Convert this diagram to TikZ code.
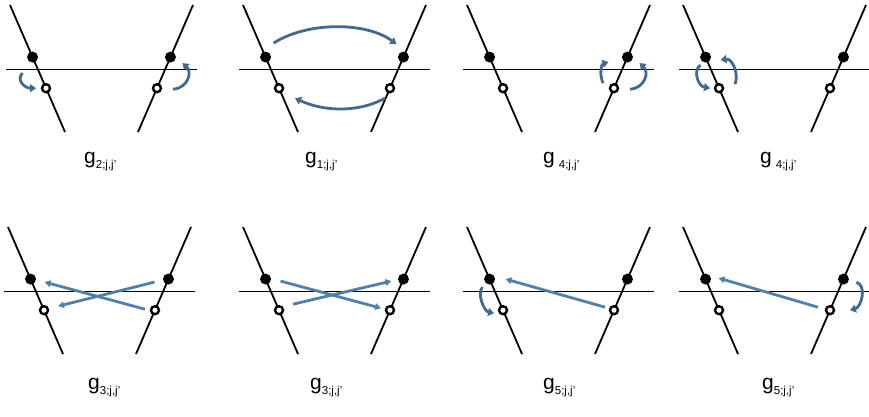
\documentclass[tikz,border=0pt]{standalone}
\usepackage{fontspec}
\setmainfont{Liberation Sans}
\usetikzlibrary{arrows.meta,calc}
\definecolor{hopblue}{HTML}{5080AD}
\definecolor{twistblue}{HTML}{45698E}
\newcommand\gsub[2][0pt]{g\hspace{#1}\raisebox{-5pt}{\fontsize{11.5}{12}\selectfont #2}}
\tikzset{
  strand/.style={line width=1.8pt,draw=black},
  level/.style ={line width=1pt,draw=black},
  full/.style  ={circle,fill=black,inner sep=0pt,minimum size=11pt},
  hollow/.style={circle,draw=black,fill=white,line width=2.4pt,inner sep=0pt,minimum size=8pt},
  hop/.style   ={-{Triangle[length=6pt,width=6.5pt]},line width=2.8pt,draw=hopblue},
  twist/.style ={-{Triangle[length=6pt,width=8pt]},line width=2.8pt,draw=twistblue},
  glabel/.style={anchor=base west,inner sep=0pt,font=\fontsize{21}{22}\selectfont}
}
\begin{document}
\begin{tikzpicture}[x=1pt,y=-1pt]
  \useasboundingbox (0,0) rectangle (869,416);
  % the eight panels: two strands, level line, two sites each
  \foreach \i/\x/\y in {1/10/5,2/243/5,3/467/5,4/683/5,5/8/227,6/243/227,7/467/227,8/683/227}{
    \coordinate (lt\i) at (\x,\y);
    \coordinate (lb\i) at (\x+55,\y+127);
    \coordinate (rt\i) at (\x+183,\y);
    \coordinate (rb\i) at (\x+128,\y+127);
    \draw[level] (\x-4,\y+64) -- (\x+187,\y+64);
    \draw[strand] (lt\i) -- (lb\i);
    \draw[strand] (rt\i) -- (rb\i);
    \node[full]   (fl\i) at ($(lt\i)!0.41!(lb\i)$) {};
    \node[hollow] (ol\i) at ($(lt\i)!0.655!(lb\i)$) {};
    \node[full]   (fr\i) at ($(rt\i)!0.41!(rb\i)$) {};
    \node[hollow] (or\i) at ($(rt\i)!0.655!(rb\i)$) {};
  }
  % labels
  \node[glabel] (lab1) at (84,163)  {\gsub{2;j,j'}};
  \node[glabel] (lab2) at (305,163) {\gsub{1;j,j'}};
  \node[glabel] (lab3) at (543,163) {\gsub[4pt]{4;j,j'}};
  \node[glabel] (lab4) at (760,163) {\gsub[4pt]{4;j,j'}};
  \node[glabel] (lab5) at (88,389)  {\gsub{3;j,j'}};
  \node[glabel] (lab6) at (310,389) {\gsub{3;j,j'}};
  \node[glabel] (lab7) at (543,389) {\gsub{5;j,j'}};
  \node[glabel] (lab8) at (762,389) {\gsub{5;j,j'}};
  % g2
  \draw[twist] ([shift={(-10,16)}]fl1.center) .. controls +(-7,7) and +(-11,0) .. ([shift={(-10,0)}]ol1.center);
  \draw[twist] ([shift={(16,1)}]or1.center) .. controls +(15,-1) and +(10,9) .. ([shift={(12,6)}]fr1.center);
  % g1
  \draw[twist] ([shift={(8,-14)}]fl2.center) .. controls +(35,-22) and +(-30,-22) .. ([shift={(-7,-13)}]fr2.center);
  \draw[twist] ([shift={(-5,10)}]or2.center) .. controls +(-25,14) and +(30,14) .. ([shift={(16,10)}]ol2.center);
  % g4, right pair
  \draw[twist] ([shift={(-11,-5)}]or3.center) .. controls +(-4,-10) and +(-7,2) .. ([shift={(-19,5)}]fr3.center);
  \draw[twist] ([shift={(16,1)}]or3.center) .. controls +(15,-1) and +(10,9) .. ([shift={(12,6)}]fr3.center);
  % g4, left pair
  \draw[twist] ([shift={(-5,8)}]fl4.center) .. controls +(-8,5) and +(-12,-2) .. ([shift={(-9,0)}]ol4.center);
  \draw[twist] ([shift={(16,-4)}]ol4.center) .. controls +(4,-10) and +(12,-2) .. ([shift={(15,3)}]fl4.center);
  % g3, right to left
  \draw[hop] ([shift={(-14,3)}]fr5.center) -- ([shift={(14,-4)}]ol5.center);
  \draw[hop] ([shift={(-10,-1)}]or5.center) -- ([shift={(14,3)}]fl5.center);
  % g3, left to right
  \draw[hop] ([shift={(15,2)}]fl6.center) -- ([shift={(-9,-2)}]or6.center);
  \draw[hop] ([shift={(14,-6)}]ol6.center) -- ([shift={(-12,2)}]fr6.center);
  % g5
  \draw[hop] ([shift={(-9,-3)}]or7.center) -- ([shift={(16,0)}]fl7.center);
  \draw[twist] ([shift={(-7,8)}]fl7.center) .. controls +(-6,6) and +(-10,-2) .. ([shift={(-9,3)}]ol7.center);
  \draw[hop] ([shift={(-12,-3)}]or8.center) -- ([shift={(13,-1)}]fl8.center);
  \draw[twist] ([shift={(13,3)}]fr8.center) .. controls +(11,4) and +(11,-3) .. ([shift={(20,0)}]or8.center);
\end{tikzpicture}
\end{document}
